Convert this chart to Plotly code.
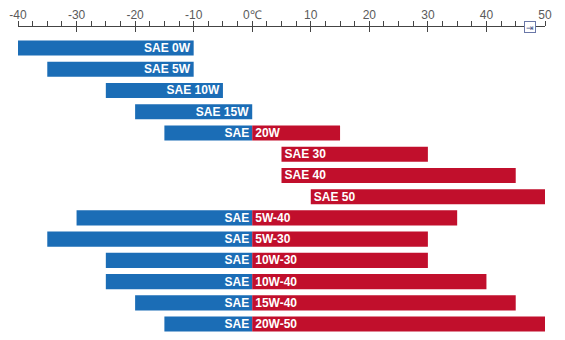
import plotly.graph_objects as go

# SAE viscosity grades and their usable ambient temperature range (°C)
grades = ["0W", "5W", "10W", "15W", "20W", "30", "40", "50",
          "5W-40", "5W-30", "10W-30", "10W-40", "15W-40", "20W-50"]
low_temp = [-40, -35, -25, -20, -15, 5, 5, 10, -30, -35, -25, -25, -20, -15]
high_temp = [-10, -10, -5, 0, 15, 30, 45, 50, 35, 30, 30, 40, 45, 50]

tick_vals = [-40, -30, -20, -10, 0, 10, 20, 30, 40, 50]
tick_text = ["-40", "-30", "-20", "-10", "0℃", "10", "20", "30", "40", "50"]

BLUE = "#1b6db6"
RED = "#c10f2c"
AXIS = "#444444"

labels = ["SAE " + g for g in grades]

# cold part of each range (below 0 °C)
cold_base, cold_len, cold_text = [], [], []
# warm part of each range (above 0 °C)
warm_base, warm_len, warm_text = [], [], []
for g, lo, hi in zip(grades, low_temp, high_temp):
    if lo < 0:
        cold_base.append(lo)
        cold_len.append(min(hi, 0) - lo)
        cold_text.append("SAE " + g if hi <= 0 else "SAE")
    else:
        cold_base.append(None)
        cold_len.append(None)
        cold_text.append("")
    if hi > 0:
        b = max(lo, 0)
        warm_base.append(b)
        warm_len.append(hi - b)
        warm_text.append("SAE " + g if lo >= 0 else g)
    else:
        warm_base.append(None)
        warm_len.append(None)
        warm_text.append("")

bar_font = dict(family="Liberation Sans, Arial, sans-serif", size=12, color="white")

fig = go.Figure()
fig.add_trace(go.Bar(
    y=labels, x=cold_len, base=cold_base, orientation="h",
    marker=dict(color=BLUE, line=dict(width=0)), width=0.71,
    text=cold_text, textposition="inside", insidetextanchor="end",
    textangle=0, constraintext="none",
    texttemplate="<b>%{text}</b>", textfont=bar_font,
    hoverinfo="skip", showlegend=False,
))
fig.add_trace(go.Bar(
    y=labels, x=warm_len, base=warm_base, orientation="h",
    marker=dict(color=RED, line=dict(width=0)), width=0.71,
    text=warm_text, textposition="inside", insidetextanchor="start",
    textangle=0, constraintext="none",
    texttemplate="<b>%{text}</b>", textfont=bar_font,
    hoverinfo="skip", showlegend=False,
))

axis_font = dict(family="Liberation Sans, Arial, sans-serif", size=12, color="#5a5a5a")

fig.update_layout(
    width=565, height=340,
    margin=dict(l=18, r=20, t=27, b=0),
    paper_bgcolor="white", plot_bgcolor="white",
    barmode="overlay",
    # main axis: line plus upward major and minor ticks
    xaxis=dict(
        side="top", range=[-40, 50], showgrid=False, zeroline=False,
        tickvals=tick_vals, showticklabels=False,
        ticks="outside", ticklen=5, tickcolor=AXIS, tickwidth=1,
        showline=True, linecolor=AXIS, linewidth=1,
        minor=dict(dtick=2.5, tick0=0, ticks="outside", ticklen=5,
                   tickcolor=AXIS, tickwidth=1, showgrid=False),
        fixedrange=True,
    ),
    # downward half of the major ticks
    xaxis2=dict(
        overlaying="x", side="top", matches="x",
        showgrid=False, zeroline=False, showline=False,
        tickvals=tick_vals, showticklabels=False,
        ticks="inside", ticklen=5, tickcolor=AXIS, tickwidth=1,
    ),
    # tick labels
    xaxis3=dict(
        overlaying="x", side="top", matches="x",
        showgrid=False, zeroline=False, showline=False,
        tickvals=tick_vals, ticktext=tick_text, tickfont=axis_font,
        ticks="", ticklabelstandoff=5,
    ),
    yaxis=dict(
        type="category", categoryorder="array", categoryarray=labels,
        range=[13.75, -0.99], showticklabels=False, showgrid=False,
        zeroline=False, showline=False, ticks="", fixedrange=True,
    ),
    annotations=[dict(
        x=47.5, y=1, xref="x", yref="paper", yanchor="middle",
        text="⇥", showarrow=False,
        font=dict(size=9, color="#4a5a8c"),
        bordercolor="#6a78a8", borderwidth=1, borderpad=0,
        bgcolor="white", width=10, height=10,
    )],
)

# invisible traces so the extra x axes are rendered
for ax in ("x2", "x3"):
    fig.add_trace(go.Scatter(x=[-40], y=[labels[0]], xaxis=ax, mode="markers",
                             marker=dict(opacity=0), hoverinfo="skip",
                             showlegend=False))

fig.write_html("out.html")
